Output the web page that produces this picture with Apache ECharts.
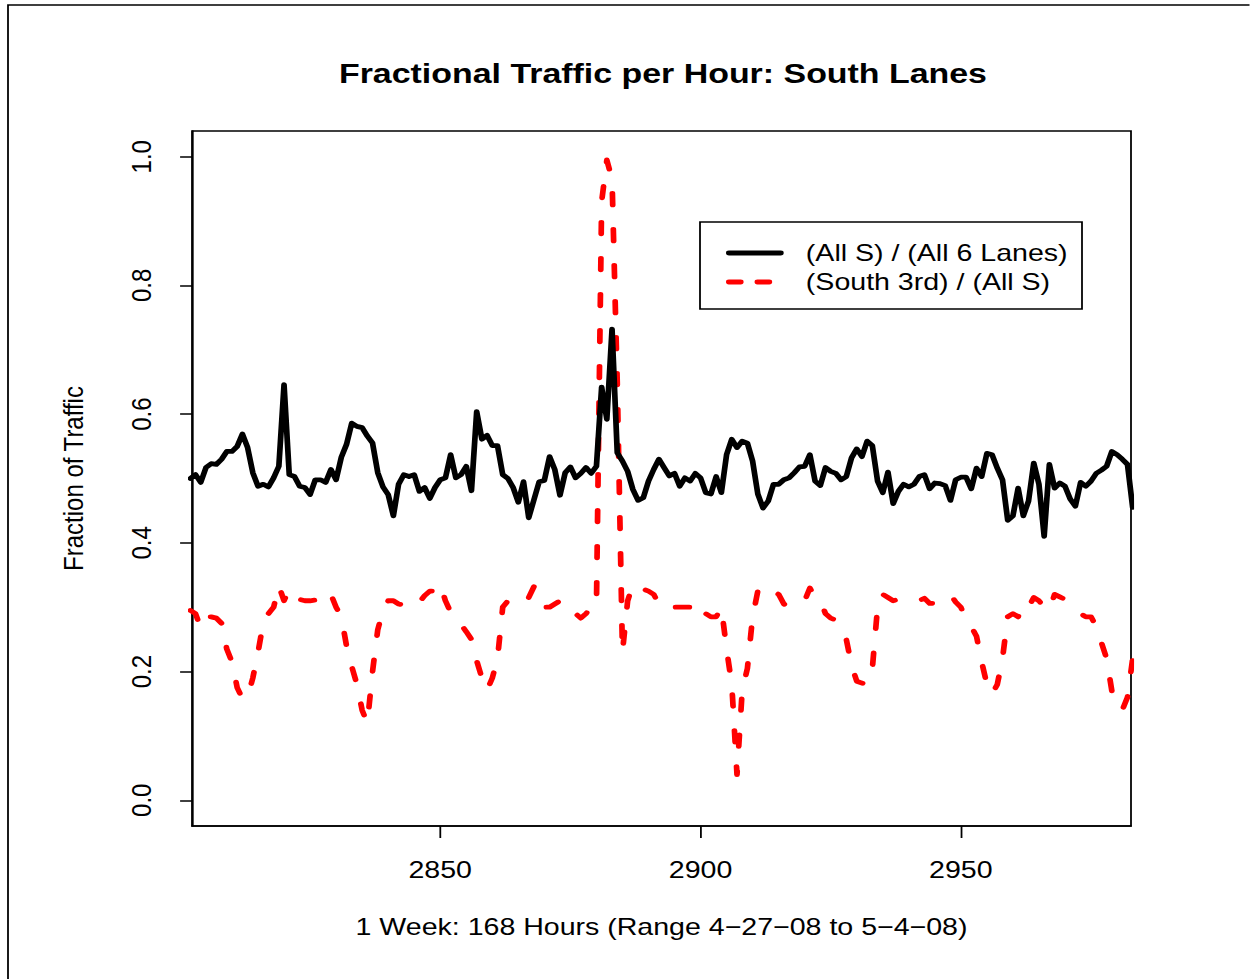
<!DOCTYPE html>
<html>
<head>
<meta charset="utf-8">
<script src="https://cdn.jsdelivr.net/npm/echarts@6/dist/echarts.min.js"></script>
<style>
  html, body { margin: 0; padding: 0; background: #fff; overflow: hidden; }
  #wrap { width: 1250px; height: 979px; overflow: hidden; }
  #c { transform-origin: 0 0; }
</style>
</head>
<body>
<div id="wrap"><div id="c"></div></div>
<script>
// ---- data ----
const titleText = 'Fractional Traffic per Hour: South Lanes';
const xTitle = '1 Week: 168 Hours (Range 4\u221227\u221208 to 5\u22124\u221208)';
const yTitle = 'Fraction of Traffic';
const seriesNames = ['(All S) / (All 6 Lanes)', '(South 3rd) / (All S)'];
const firstHour = 2802;           // hour of the first value below
const xTicks = [2850, 2900, 2950];
const yTicks = [0, 0.2, 0.4, 0.6, 0.8, 1.0];

const allS = [
0.500,0.506,0.494,0.517,0.523,0.522,0.530,0.542,0.542,0.550,
0.569,0.548,0.509,0.488,0.491,0.487,0.501,0.519,0.646,0.506,
0.503,0.488,0.486,0.475,0.498,0.498,0.494,0.514,0.498,0.533,
0.553,0.586,0.581,0.579,0.566,0.555,0.509,0.487,0.475,0.442,
0.491,0.506,0.503,0.506,0.480,0.486,0.469,0.486,0.498,0.501,
0.537,0.501,0.506,0.519,0.481,0.604,0.561,0.567,0.551,0.551,
0.506,0.500,0.486,0.463,0.495,0.439,0.467,0.495,0.497,0.534,
0.514,0.474,0.509,0.518,0.501,0.508,0.517,0.508,0.519,0.642,
0.592,0.732,0.540,0.527,0.511,0.483,0.466,0.470,0.496,0.514,
0.530,0.517,0.504,0.508,0.488,0.501,0.496,0.508,0.501,0.478,
0.476,0.503,0.478,0.537,0.561,0.548,0.558,0.555,0.527,0.476,
0.454,0.465,0.491,0.491,0.498,0.501,0.509,0.518,0.519,0.537,
0.496,0.489,0.517,0.511,0.508,0.498,0.503,0.532,0.546,0.534,
0.558,0.551,0.496,0.478,0.510,0.461,0.480,0.491,0.487,0.491,
0.503,0.506,0.484,0.493,0.492,0.489,0.466,0.498,0.502,0.502,
0.484,0.516,0.503,0.539,0.537,0.516,0.498,0.435,0.442,0.485,
0.442,0.465,0.524,0.491,0.410,0.522,0.485,0.493,0.488,0.468,
0.457,0.494,0.488,0.496,0.508,0.513,0.519,0.542,0.537,0.530,
0.522,0.455
];

const south3rd = [
0.295,0.290,0.268,0.285,0.285,0.283,0.275,0.235,0.215,0.175,
0.158,0.160,0.190,0.230,0.275,0.290,0.300,0.333,0.310,0.328,
0.316,0.312,0.310,0.310,0.311,0.305,0.315,0.320,0.300,0.285,
0.240,0.208,0.180,0.140,0.120,0.200,0.265,0.295,0.310,0.310,
0.305,0.303,0.310,0.314,0.308,0.318,0.325,0.325,0.336,0.310,
0.292,0.280,0.273,0.262,0.250,0.217,0.190,0.171,0.190,0.220,
0.300,0.310,0.308,0.302,0.308,0.315,0.332,0.310,0.300,0.300,
0.305,0.310,0.310,0.305,0.290,0.283,0.290,0.300,0.300,0.930,
0.995,0.965,0.650,0.230,0.310,0.335,0.335,0.328,0.325,0.320,
0.305,0.310,0.305,0.300,0.300,0.300,0.300,0.310,0.300,0.290,
0.285,0.285,0.300,0.235,0.180,0.040,0.170,0.205,0.285,0.325,
0.335,0.330,0.325,0.320,0.305,0.300,0.300,0.305,0.310,0.330,
0.315,0.310,0.290,0.283,0.280,0.270,0.250,0.210,0.185,0.182,
0.180,0.205,0.300,0.320,0.315,0.310,0.312,0.316,0.312,0.310,
0.310,0.314,0.306,0.306,0.310,0.313,0.320,0.308,0.300,0.280,
0.270,0.255,0.215,0.180,0.165,0.180,0.220,0.285,0.290,0.285,
0.305,0.300,0.315,0.310,0.300,0.295,0.320,0.316,0.312,0.305,
0.300,0.290,0.285,0.285,0.270,0.245,0.220,0.170,0.150,0.140,
0.160,0.220
];

// ---- layout (the source figure is stretched horizontally) ----
const SX = 1.19;
const W = 1250 / SX, H = 979;
const FONT = '"Liberation Sans", Arial, Helvetica, sans-serif';
const LW = 4.8;
const DASH = [11.5, 24.5];

const el = document.getElementById('c');
el.style.width = W + 'px';
el.style.height = H + 'px';
el.style.transform = 'scaleX(' + SX + ')';

const toPairs = vals => vals.map((v, i) => [firstHour + i, v]);

const chart = echarts.init(el, null, { renderer: 'svg', width: W, height: H });

const gLeft = 192 / SX, gRight = 1131 / SX;

chart.setOption({
  animation: false,
  backgroundColor: '#ffffff',
  title: {
    text: titleText,
    left: 657 / SX,
    textAlign: 'center',
    top: 54,
    textStyle: { fontFamily: FONT, fontSize: 28.5, fontWeight: 'bold', color: '#000' }
  },
  grid: {
    left: gLeft, top: 131, width: gRight - gLeft, height: 695,
    show: true, borderColor: '#000', borderWidth: 1.5,
    backgroundColor: 'transparent',
    outerBoundsMode: 'none', containLabel: false
  },
  legend: {
    data: [
      { name: seriesNames[0], itemStyle: { opacity: 0 },
        lineStyle: { color: '#000', width: LW, cap: 'round', type: 'solid' } },
      { name: seriesNames[1], itemStyle: { opacity: 0 },
        lineStyle: { color: '#ff0000', width: LW, cap: 'round', type: [10, 14] } }
    ],
    orient: 'vertical',
    left: 726 / SX,
    top: 252 - 14.5 + 1,
    padding: 0,
    itemGap: 0,
    itemWidth: 52 / SX,
    itemHeight: 29,
    textStyle: { fontFamily: FONT, fontSize: 24, lineHeight: 29, color: '#000', padding: [0, 0, 0, 16] }
  },
  xAxis: {
    type: 'value',
    min: 2802.32, max: 2982.68,
    axisLine: { show: true, onZero: false, lineStyle: { color: '#000', width: 1.5 } },
    axisTick: { show: true, customValues: xTicks, length: 12, lineStyle: { color: '#000', width: 1.5 } },
    axisLabel: { customValues: xTicks, margin: 32, formatter: v => String(v),
                 fontFamily: FONT, fontSize: 24, color: '#000' },
    splitLine: { show: false },
    name: xTitle,
    nameLocation: 'middle',
    nameGap: 89,
    nameTextStyle: { fontFamily: FONT, fontSize: 24, color: '#000' }
  },
  yAxis: {
    type: 'value',
    min: -0.04, max: 1.04,
    axisLine: { show: true, onZero: false, lineStyle: { color: '#000', width: 1.5 } },
    axisTick: { show: true, customValues: yTicks, length: 10, lineStyle: { color: '#000', width: 1.5 } },
    axisLabel: {
      customValues: yTicks, rotate: 90, margin: 31,
      formatter: v => v.toFixed(1),
      fontFamily: FONT, fontSize: 24, color: '#000'
    },
    splitLine: { show: false },
    name: yTitle,
    nameLocation: 'middle',
    nameRotate: 90,
    nameGap: 88,
    nameTextStyle: { fontFamily: FONT, fontSize: 24, color: '#000' }
  },
  series: [
    {
      name: seriesNames[0], type: 'line', data: toPairs(allS),
      symbol: 'none', showSymbol: false, clip: true,
      lineStyle: { color: '#000000', width: LW, cap: 'round', join: 'round' },
      itemStyle: { color: '#000000' }, z: 3
    },
    {
      name: seriesNames[1], type: 'line', data: toPairs(south3rd),
      symbol: 'none', showSymbol: false, clip: true,
      lineStyle: { color: '#ff0000', width: LW, type: DASH, cap: 'round', join: 'round' },
      itemStyle: { color: '#ff0000' }, z: 2
    }
  ],
  graphic: [
    { type: 'rect', silent: true, z: 0,
      shape: { x: 8 / SX, y: 5, width: 3000, height: 3000 },
      style: { fill: 'none', stroke: '#000', lineWidth: 1.5 } },
    { type: 'rect', silent: true, z: 10,
      shape: { x: 700 / SX, y: 222, width: (1082 - 700) / SX, height: 87 },
      style: { fill: 'none', stroke: '#000', lineWidth: 1.5 } }
  ]
});
</script>
</body>
</html>
